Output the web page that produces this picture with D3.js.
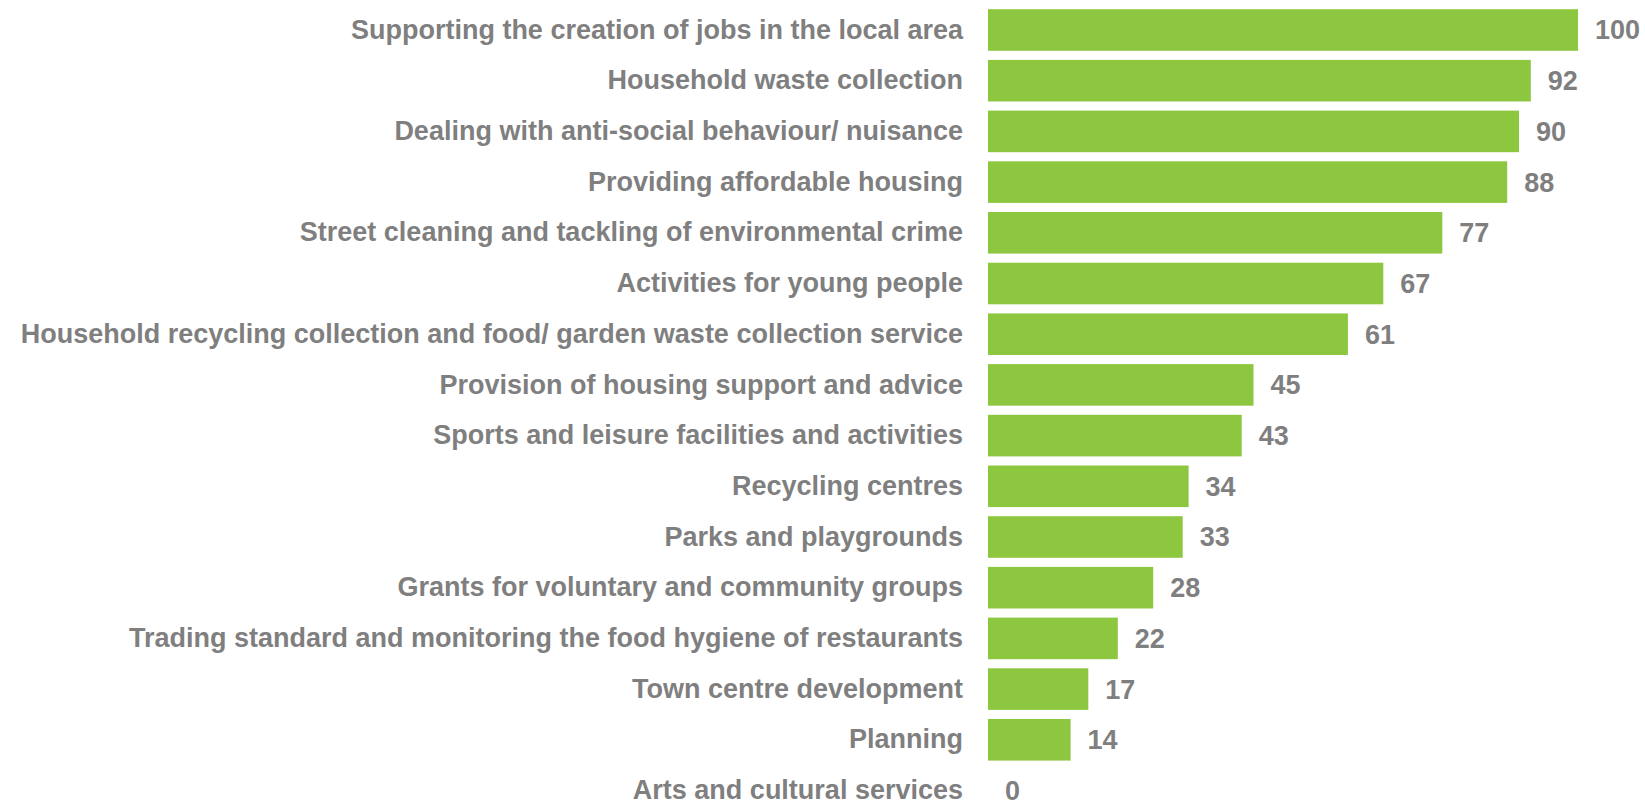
<!DOCTYPE html>
<html>
<head>
<meta charset="utf-8">
<script src="https://cdn.jsdelivr.net/npm/d3@7"></script>
<style>
    body { margin: 0; background: #fff; }
    text { font-family: Arial, "Liberation Sans", sans-serif; font-weight: bold; }
</style>
</head>
<body>
<svg class="chart" width="1645" height="800"></svg>
<script>
// services ranked by score
let services = [
    "Supporting the creation of jobs in the local area",
    "Household waste collection",
    "Dealing with anti-social behaviour/ nuisance",
    "Providing affordable housing",
    "Street cleaning and tackling of environmental crime",
    "Activities for young people",
    "Household recycling collection and food/ garden waste collection service",
    "Provision of housing support and advice",
    "Sports and leisure facilities and activities",
    "Recycling centres",
    "Parks and playgrounds",
    "Grants for voluntary and community groups",
    "Trading standard and monitoring the food hygiene of restaurants",
    "Town centre development",
    "Planning",
    "Arts and cultural services"
];
let scores = [100, 92, 90, 88, 77, 67, 61, 45, 43, 34, 33, 28, 22, 17, 14, 0];

let rows = services.map((s, i) => ({name: s, value: scores[i]}));

let svg = d3.select(".chart");

// scales
let scaleX = d3.scaleLinear()
    .domain([0, 100])
    .range([988, 1578]);
let scaleY = d3.scaleBand()
    .domain(services)
    .range([4.65, 815.85])
    .paddingInner(0.18)
    .paddingOuter(0.09);

// bars
svg.append("g")
    .selectAll("rect")
    .data(rows).enter()
    .append("rect")
    .attr("x", scaleX(0))
    .attr("y", d => scaleY(d.name))
    .attr("width", d => scaleX(d.value) - scaleX(0))
    .attr("height", scaleY.bandwidth())
    .attr("fill", "#8dc63f");

// category labels
let axisY = d3.axisLeft(scaleY).tickSize(0).tickPadding(25);
let gy = svg.append("g")
    .attr("transform", "translate(" + scaleX(0) + ",0)")
    .call(axisY);
gy.select(".domain").remove();
gy.selectAll("text")
    .attr("fill", "#7f7f7f")
    .style("font-size", "27px")
    .style("font-family", "Arial, 'Liberation Sans', sans-serif")
    .style("font-weight", "bold");

// value labels
svg.append("g")
    .selectAll("text")
    .data(rows).enter()
    .append("text")
    .attr("x", d => scaleX(d.value) + 17)
    .attr("y", d => scaleY(d.name) + scaleY.bandwidth() / 2)
    .attr("dy", "0.35em")
    .attr("fill", "#7f7f7f")
    .style("font-size", "27px")
    .text(d => d.value);
</script>
</body>
</html>
